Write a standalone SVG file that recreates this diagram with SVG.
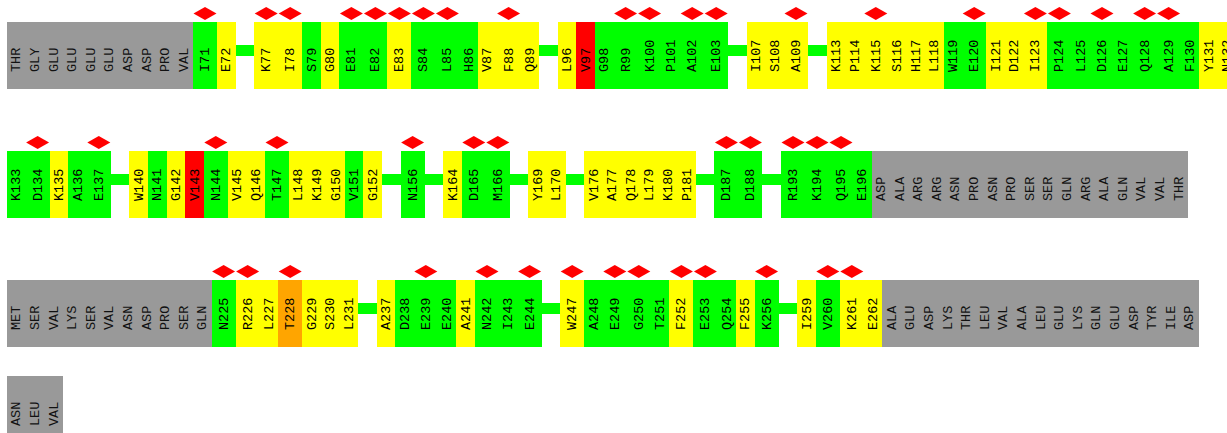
<svg xmlns="http://www.w3.org/2000/svg" xmlns:xlink="http://www.w3.org/1999/xlink" width="1227" height="433" viewBox="0 0 1227 433">
<style>
rect{shape-rendering:crispEdges}
.G{fill:#00ff00}.Y{fill:#ffff00}.R{fill:#ff0000}.O{fill:#ffa500}.X{fill:#999999}
.t{font-family:"Liberation Mono","DejaVu Sans Mono",monospace;font-size:13.5px;fill:#000}
.x{fill:#111}
.c{fill:#00ff00}
</style>
<defs>
<polygon id="dia" points="0,-6.5 11.5,0 0,6.5 -11.5,0" fill="#ff0000"/>
</defs>
<rect width="1227" height="433" fill="#ffffff"/>
<g id="connectors">
<rect class="c" x="235.6" y="45" width="18.6" height="11"/>
<rect class="c" x="539.2" y="45" width="18.6" height="11"/>
<rect class="c" x="728.2" y="45" width="18.6" height="11"/>
<rect class="c" x="808" y="45" width="18.6" height="11"/>
<rect class="c" x="110.8" y="174" width="18.6" height="11"/>
<rect class="c" x="382" y="174" width="18.6" height="11"/>
<rect class="c" x="424.6" y="174" width="18.6" height="11"/>
<rect class="c" x="509.8" y="174" width="18.6" height="11"/>
<rect class="c" x="565.6" y="174" width="18.6" height="11"/>
<rect class="c" x="695.8" y="174" width="18.6" height="11"/>
<rect class="c" x="762.4" y="174" width="18.6" height="11"/>
<rect class="c" x="358" y="303" width="18.6" height="11"/>
<rect class="c" x="541.6" y="303" width="18.6" height="11"/>
<rect class="c" x="778.6" y="303" width="18.6" height="11"/>
</g>
<g id="row1" transform="translate(0,22)">
<g id="r1g1" transform="translate(7,0)"><rect class="X" width="18.6" height="67"/><text class="t x" transform="translate(13.3,50) rotate(-90)">THR</text></g>
<g id="r1g2" transform="translate(25.6,0)"><rect class="X" width="18.6" height="67"/><text class="t x" transform="translate(13.3,50) rotate(-90)">GLY</text></g>
<g id="r1g3" transform="translate(44.2,0)"><rect class="X" width="18.6" height="67"/><text class="t x" transform="translate(13.3,50) rotate(-90)">GLU</text></g>
<g id="r1g4" transform="translate(62.8,0)"><rect class="X" width="18.6" height="67"/><text class="t x" transform="translate(13.3,50) rotate(-90)">GLU</text></g>
<g id="r1g5" transform="translate(81.4,0)"><rect class="X" width="18.6" height="67"/><text class="t x" transform="translate(13.3,50) rotate(-90)">GLU</text></g>
<g id="r1g6" transform="translate(100,0)"><rect class="X" width="18.6" height="67"/><text class="t x" transform="translate(13.3,50) rotate(-90)">GLU</text></g>
<g id="r1g7" transform="translate(118.6,0)"><rect class="X" width="18.6" height="67"/><text class="t x" transform="translate(13.3,50) rotate(-90)">ASP</text></g>
<g id="r1g8" transform="translate(137.2,0)"><rect class="X" width="18.6" height="67"/><text class="t x" transform="translate(13.3,50) rotate(-90)">ASP</text></g>
<g id="r1g9" transform="translate(155.8,0)"><rect class="X" width="18.6" height="67"/><text class="t x" transform="translate(13.3,50) rotate(-90)">PRO</text></g>
<g id="r1g10" transform="translate(174.4,0)"><rect class="X" width="18.6" height="67"/><text class="t x" transform="translate(13.3,50) rotate(-90)">VAL</text></g>
<g id="I71" transform="translate(193,0)"><rect class="G" width="24" height="67"/><text class="t" transform="translate(16,50) rotate(-90)">I71</text><use href="#dia" x="12" y="-8.5"/></g>
<g id="E72" transform="translate(217,0)"><rect class="Y" width="18.6" height="67"/><text class="t" transform="translate(13.3,50) rotate(-90)">E72</text></g>
<g id="K77" transform="translate(254.2,0)"><rect class="Y" width="24" height="67"/><text class="t" transform="translate(16,50) rotate(-90)">K77</text><use href="#dia" x="12" y="-8.5"/></g>
<g id="I78" transform="translate(278.2,0)"><rect class="Y" width="24" height="67"/><text class="t" transform="translate(16,50) rotate(-90)">I78</text><use href="#dia" x="12" y="-8.5"/></g>
<g id="S79" transform="translate(302.2,0)"><rect class="G" width="18.6" height="67"/><text class="t" transform="translate(13.3,50) rotate(-90)">S79</text></g>
<g id="G80" transform="translate(320.8,0)"><rect class="Y" width="18.6" height="67"/><text class="t" transform="translate(13.3,50) rotate(-90)">G80</text></g>
<g id="E81" transform="translate(339.4,0)"><rect class="G" width="24" height="67"/><text class="t" transform="translate(16,50) rotate(-90)">E81</text><use href="#dia" x="12" y="-8.5"/></g>
<g id="E82" transform="translate(363.4,0)"><rect class="G" width="24" height="67"/><text class="t" transform="translate(16,50) rotate(-90)">E82</text><use href="#dia" x="12" y="-8.5"/></g>
<g id="E83" transform="translate(387.4,0)"><rect class="Y" width="24" height="67"/><text class="t" transform="translate(16,50) rotate(-90)">E83</text><use href="#dia" x="12" y="-8.5"/></g>
<g id="S84" transform="translate(411.4,0)"><rect class="G" width="24" height="67"/><text class="t" transform="translate(16,50) rotate(-90)">S84</text><use href="#dia" x="12" y="-8.5"/></g>
<g id="L85" transform="translate(435.4,0)"><rect class="G" width="24" height="67"/><text class="t" transform="translate(16,50) rotate(-90)">L85</text><use href="#dia" x="12" y="-8.5"/></g>
<g id="H86" transform="translate(459.4,0)"><rect class="G" width="18.6" height="67"/><text class="t" transform="translate(13.3,50) rotate(-90)">H86</text></g>
<g id="V87" transform="translate(478,0)"><rect class="Y" width="18.6" height="67"/><text class="t" transform="translate(13.3,50) rotate(-90)">V87</text></g>
<g id="F88" transform="translate(496.6,0)"><rect class="Y" width="24" height="67"/><text class="t" transform="translate(16,50) rotate(-90)">F88</text><use href="#dia" x="12" y="-8.5"/></g>
<g id="Q89" transform="translate(520.6,0)"><rect class="Y" width="18.6" height="67"/><text class="t" transform="translate(13.3,50) rotate(-90)">Q89</text></g>
<g id="L96" transform="translate(557.8,0)"><rect class="Y" width="18.6" height="67"/><text class="t" transform="translate(13.3,50) rotate(-90)">L96</text></g>
<g id="V97" transform="translate(576.4,0)"><rect class="R" width="18.6" height="67"/><text class="t" transform="translate(13.3,50) rotate(-90)">V97</text></g>
<g id="G98" transform="translate(595,0)"><rect class="G" width="18.6" height="67"/><text class="t" transform="translate(13.3,50) rotate(-90)">G98</text></g>
<g id="R99" transform="translate(613.6,0)"><rect class="G" width="24" height="67"/><text class="t" transform="translate(16,50) rotate(-90)">R99</text><use href="#dia" x="12" y="-8.5"/></g>
<g id="K100" transform="translate(637.6,0)"><rect class="G" width="24" height="67"/><text class="t" transform="translate(16,50) rotate(-90)">K100</text><use href="#dia" x="12" y="-8.5"/></g>
<g id="P101" transform="translate(661.6,0)"><rect class="G" width="18.6" height="67"/><text class="t" transform="translate(13.3,50) rotate(-90)">P101</text></g>
<g id="A102" transform="translate(680.2,0)"><rect class="G" width="24" height="67"/><text class="t" transform="translate(16,50) rotate(-90)">A102</text><use href="#dia" x="12" y="-8.5"/></g>
<g id="E103" transform="translate(704.2,0)"><rect class="G" width="24" height="67"/><text class="t" transform="translate(16,50) rotate(-90)">E103</text><use href="#dia" x="12" y="-8.5"/></g>
<g id="I107" transform="translate(746.8,0)"><rect class="Y" width="18.6" height="67"/><text class="t" transform="translate(13.3,50) rotate(-90)">I107</text></g>
<g id="S108" transform="translate(765.4,0)"><rect class="Y" width="18.6" height="67"/><text class="t" transform="translate(13.3,50) rotate(-90)">S108</text></g>
<g id="A109" transform="translate(784,0)"><rect class="Y" width="24" height="67"/><text class="t" transform="translate(16,50) rotate(-90)">A109</text><use href="#dia" x="12" y="-8.5"/></g>
<g id="K113" transform="translate(826.6,0)"><rect class="Y" width="18.6" height="67"/><text class="t" transform="translate(13.3,50) rotate(-90)">K113</text></g>
<g id="P114" transform="translate(845.2,0)"><rect class="Y" width="18.6" height="67"/><text class="t" transform="translate(13.3,50) rotate(-90)">P114</text></g>
<g id="K115" transform="translate(863.8,0)"><rect class="Y" width="24" height="67"/><text class="t" transform="translate(16,50) rotate(-90)">K115</text><use href="#dia" x="12" y="-8.5"/></g>
<g id="S116" transform="translate(887.8,0)"><rect class="Y" width="18.6" height="67"/><text class="t" transform="translate(13.3,50) rotate(-90)">S116</text></g>
<g id="H117" transform="translate(906.4,0)"><rect class="Y" width="18.6" height="67"/><text class="t" transform="translate(13.3,50) rotate(-90)">H117</text></g>
<g id="L118" transform="translate(925,0)"><rect class="Y" width="18.6" height="67"/><text class="t" transform="translate(13.3,50) rotate(-90)">L118</text></g>
<g id="W119" transform="translate(943.6,0)"><rect class="G" width="18.6" height="67"/><text class="t" transform="translate(13.3,50) rotate(-90)">W119</text></g>
<g id="E120" transform="translate(962.2,0)"><rect class="G" width="24" height="67"/><text class="t" transform="translate(16,50) rotate(-90)">E120</text><use href="#dia" x="12" y="-8.5"/></g>
<g id="I121" transform="translate(986.2,0)"><rect class="Y" width="18.6" height="67"/><text class="t" transform="translate(13.3,50) rotate(-90)">I121</text></g>
<g id="D122" transform="translate(1004.8,0)"><rect class="Y" width="18.6" height="67"/><text class="t" transform="translate(13.3,50) rotate(-90)">D122</text></g>
<g id="I123" transform="translate(1023.4,0)"><rect class="Y" width="24" height="67"/><text class="t" transform="translate(16,50) rotate(-90)">I123</text><use href="#dia" x="12" y="-8.5"/></g>
<g id="P124" transform="translate(1047.4,0)"><rect class="G" width="24" height="67"/><text class="t" transform="translate(16,50) rotate(-90)">P124</text><use href="#dia" x="12" y="-8.5"/></g>
<g id="L125" transform="translate(1071.4,0)"><rect class="G" width="18.6" height="67"/><text class="t" transform="translate(13.3,50) rotate(-90)">L125</text></g>
<g id="D126" transform="translate(1090,0)"><rect class="G" width="24" height="67"/><text class="t" transform="translate(16,50) rotate(-90)">D126</text><use href="#dia" x="12" y="-8.5"/></g>
<g id="E127" transform="translate(1114,0)"><rect class="G" width="18.6" height="67"/><text class="t" transform="translate(13.3,50) rotate(-90)">E127</text></g>
<g id="Q128" transform="translate(1132.6,0)"><rect class="G" width="24" height="67"/><text class="t" transform="translate(16,50) rotate(-90)">Q128</text><use href="#dia" x="12" y="-8.5"/></g>
<g id="A129" transform="translate(1156.6,0)"><rect class="G" width="24" height="67"/><text class="t" transform="translate(16,50) rotate(-90)">A129</text><use href="#dia" x="12" y="-8.5"/></g>
<g id="F130" transform="translate(1180.6,0)"><rect class="G" width="18.6" height="67"/><text class="t" transform="translate(13.3,50) rotate(-90)">F130</text></g>
<g id="Y131" transform="translate(1199.2,0)"><rect class="Y" width="18.6" height="67"/><text class="t" transform="translate(13.3,50) rotate(-90)">Y131</text></g>
<g id="N132" transform="translate(1217.8,0)"><rect class="Y" width="18.6" height="67"/><text class="t" transform="translate(13.3,50) rotate(-90)">N132</text></g>
</g>
<g id="row2" transform="translate(0,151)">
<g id="K133" transform="translate(7,0)"><rect class="G" width="18.6" height="67"/><text class="t" transform="translate(13.3,50) rotate(-90)">K133</text></g>
<g id="D134" transform="translate(25.6,0)"><rect class="G" width="24" height="67"/><text class="t" transform="translate(16,50) rotate(-90)">D134</text><use href="#dia" x="12" y="-8.5"/></g>
<g id="K135" transform="translate(49.6,0)"><rect class="Y" width="18.6" height="67"/><text class="t" transform="translate(13.3,50) rotate(-90)">K135</text></g>
<g id="A136" transform="translate(68.2,0)"><rect class="G" width="18.6" height="67"/><text class="t" transform="translate(13.3,50) rotate(-90)">A136</text></g>
<g id="E137" transform="translate(86.8,0)"><rect class="G" width="24" height="67"/><text class="t" transform="translate(16,50) rotate(-90)">E137</text><use href="#dia" x="12" y="-8.5"/></g>
<g id="W140" transform="translate(129.4,0)"><rect class="Y" width="18.6" height="67"/><text class="t" transform="translate(13.3,50) rotate(-90)">W140</text></g>
<g id="N141" transform="translate(148,0)"><rect class="G" width="18.6" height="67"/><text class="t" transform="translate(13.3,50) rotate(-90)">N141</text></g>
<g id="G142" transform="translate(166.6,0)"><rect class="Y" width="18.6" height="67"/><text class="t" transform="translate(13.3,50) rotate(-90)">G142</text></g>
<g id="V143" transform="translate(185.2,0)"><rect class="R" width="18.6" height="67"/><text class="t" transform="translate(13.3,50) rotate(-90)">V143</text></g>
<g id="N144" transform="translate(203.8,0)"><rect class="G" width="24" height="67"/><text class="t" transform="translate(16,50) rotate(-90)">N144</text><use href="#dia" x="12" y="-8.5"/></g>
<g id="V145" transform="translate(227.8,0)"><rect class="Y" width="18.6" height="67"/><text class="t" transform="translate(13.3,50) rotate(-90)">V145</text></g>
<g id="Q146" transform="translate(246.4,0)"><rect class="Y" width="18.6" height="67"/><text class="t" transform="translate(13.3,50) rotate(-90)">Q146</text></g>
<g id="T147" transform="translate(265,0)"><rect class="G" width="24" height="67"/><text class="t" transform="translate(16,50) rotate(-90)">T147</text><use href="#dia" x="12" y="-8.5"/></g>
<g id="L148" transform="translate(289,0)"><rect class="Y" width="18.6" height="67"/><text class="t" transform="translate(13.3,50) rotate(-90)">L148</text></g>
<g id="K149" transform="translate(307.6,0)"><rect class="Y" width="18.6" height="67"/><text class="t" transform="translate(13.3,50) rotate(-90)">K149</text></g>
<g id="G150" transform="translate(326.2,0)"><rect class="Y" width="18.6" height="67"/><text class="t" transform="translate(13.3,50) rotate(-90)">G150</text></g>
<g id="V151" transform="translate(344.8,0)"><rect class="G" width="18.6" height="67"/><text class="t" transform="translate(13.3,50) rotate(-90)">V151</text></g>
<g id="G152" transform="translate(363.4,0)"><rect class="Y" width="18.6" height="67"/><text class="t" transform="translate(13.3,50) rotate(-90)">G152</text></g>
<g id="N156" transform="translate(400.6,0)"><rect class="G" width="24" height="67"/><text class="t" transform="translate(16,50) rotate(-90)">N156</text><use href="#dia" x="12" y="-8.5"/></g>
<g id="K164" transform="translate(443.2,0)"><rect class="Y" width="18.6" height="67"/><text class="t" transform="translate(13.3,50) rotate(-90)">K164</text></g>
<g id="D165" transform="translate(461.8,0)"><rect class="G" width="24" height="67"/><text class="t" transform="translate(16,50) rotate(-90)">D165</text><use href="#dia" x="12" y="-8.5"/></g>
<g id="M166" transform="translate(485.8,0)"><rect class="G" width="24" height="67"/><text class="t" transform="translate(16,50) rotate(-90)">M166</text><use href="#dia" x="12" y="-8.5"/></g>
<g id="Y169" transform="translate(528.4,0)"><rect class="Y" width="18.6" height="67"/><text class="t" transform="translate(13.3,50) rotate(-90)">Y169</text></g>
<g id="L170" transform="translate(547,0)"><rect class="Y" width="18.6" height="67"/><text class="t" transform="translate(13.3,50) rotate(-90)">L170</text></g>
<g id="V176" transform="translate(584.2,0)"><rect class="Y" width="18.6" height="67"/><text class="t" transform="translate(13.3,50) rotate(-90)">V176</text></g>
<g id="A177" transform="translate(602.8,0)"><rect class="Y" width="18.6" height="67"/><text class="t" transform="translate(13.3,50) rotate(-90)">A177</text></g>
<g id="Q178" transform="translate(621.4,0)"><rect class="Y" width="18.6" height="67"/><text class="t" transform="translate(13.3,50) rotate(-90)">Q178</text></g>
<g id="L179" transform="translate(640,0)"><rect class="Y" width="18.6" height="67"/><text class="t" transform="translate(13.3,50) rotate(-90)">L179</text></g>
<g id="K180" transform="translate(658.6,0)"><rect class="Y" width="18.6" height="67"/><text class="t" transform="translate(13.3,50) rotate(-90)">K180</text></g>
<g id="P181" transform="translate(677.2,0)"><rect class="Y" width="18.6" height="67"/><text class="t" transform="translate(13.3,50) rotate(-90)">P181</text></g>
<g id="D187" transform="translate(714.4,0)"><rect class="G" width="24" height="67"/><text class="t" transform="translate(16,50) rotate(-90)">D187</text><use href="#dia" x="12" y="-8.5"/></g>
<g id="D188" transform="translate(738.4,0)"><rect class="G" width="24" height="67"/><text class="t" transform="translate(16,50) rotate(-90)">D188</text><use href="#dia" x="12" y="-8.5"/></g>
<g id="R193" transform="translate(781,0)"><rect class="G" width="24" height="67"/><text class="t" transform="translate(16,50) rotate(-90)">R193</text><use href="#dia" x="12" y="-8.5"/></g>
<g id="K194" transform="translate(805,0)"><rect class="G" width="24" height="67"/><text class="t" transform="translate(16,50) rotate(-90)">K194</text><use href="#dia" x="12" y="-8.5"/></g>
<g id="Q195" transform="translate(829,0)"><rect class="G" width="24" height="67"/><text class="t" transform="translate(16,50) rotate(-90)">Q195</text><use href="#dia" x="12" y="-8.5"/></g>
<g id="E196" transform="translate(853,0)"><rect class="G" width="18.6" height="67"/><text class="t" transform="translate(13.3,50) rotate(-90)">E196</text></g>
<g id="r2g1" transform="translate(871.6,0)"><rect class="X" width="18.6" height="67"/><text class="t x" transform="translate(13.3,50) rotate(-90)">ASP</text></g>
<g id="r2g2" transform="translate(890.2,0)"><rect class="X" width="18.6" height="67"/><text class="t x" transform="translate(13.3,50) rotate(-90)">ALA</text></g>
<g id="r2g3" transform="translate(908.8,0)"><rect class="X" width="18.6" height="67"/><text class="t x" transform="translate(13.3,50) rotate(-90)">ARG</text></g>
<g id="r2g4" transform="translate(927.4,0)"><rect class="X" width="18.6" height="67"/><text class="t x" transform="translate(13.3,50) rotate(-90)">ARG</text></g>
<g id="r2g5" transform="translate(946,0)"><rect class="X" width="18.6" height="67"/><text class="t x" transform="translate(13.3,50) rotate(-90)">ASN</text></g>
<g id="r2g6" transform="translate(964.6,0)"><rect class="X" width="18.6" height="67"/><text class="t x" transform="translate(13.3,50) rotate(-90)">PRO</text></g>
<g id="r2g7" transform="translate(983.2,0)"><rect class="X" width="18.6" height="67"/><text class="t x" transform="translate(13.3,50) rotate(-90)">ASN</text></g>
<g id="r2g8" transform="translate(1001.8,0)"><rect class="X" width="18.6" height="67"/><text class="t x" transform="translate(13.3,50) rotate(-90)">PRO</text></g>
<g id="r2g9" transform="translate(1020.4,0)"><rect class="X" width="18.6" height="67"/><text class="t x" transform="translate(13.3,50) rotate(-90)">SER</text></g>
<g id="r2g10" transform="translate(1039,0)"><rect class="X" width="18.6" height="67"/><text class="t x" transform="translate(13.3,50) rotate(-90)">SER</text></g>
<g id="r2g11" transform="translate(1057.6,0)"><rect class="X" width="18.6" height="67"/><text class="t x" transform="translate(13.3,50) rotate(-90)">GLN</text></g>
<g id="r2g12" transform="translate(1076.2,0)"><rect class="X" width="18.6" height="67"/><text class="t x" transform="translate(13.3,50) rotate(-90)">ARG</text></g>
<g id="r2g13" transform="translate(1094.8,0)"><rect class="X" width="18.6" height="67"/><text class="t x" transform="translate(13.3,50) rotate(-90)">ALA</text></g>
<g id="r2g14" transform="translate(1113.4,0)"><rect class="X" width="18.6" height="67"/><text class="t x" transform="translate(13.3,50) rotate(-90)">GLN</text></g>
<g id="r2g15" transform="translate(1132,0)"><rect class="X" width="18.6" height="67"/><text class="t x" transform="translate(13.3,50) rotate(-90)">VAL</text></g>
<g id="r2g16" transform="translate(1150.6,0)"><rect class="X" width="18.6" height="67"/><text class="t x" transform="translate(13.3,50) rotate(-90)">VAL</text></g>
<g id="r2g17" transform="translate(1169.2,0)"><rect class="X" width="18.6" height="67"/><text class="t x" transform="translate(13.3,50) rotate(-90)">THR</text></g>
</g>
<g id="row3" transform="translate(0,280)">
<g id="r3g1" transform="translate(7,0)"><rect class="X" width="18.6" height="67"/><text class="t x" transform="translate(13.3,50) rotate(-90)">MET</text></g>
<g id="r3g2" transform="translate(25.6,0)"><rect class="X" width="18.6" height="67"/><text class="t x" transform="translate(13.3,50) rotate(-90)">SER</text></g>
<g id="r3g3" transform="translate(44.2,0)"><rect class="X" width="18.6" height="67"/><text class="t x" transform="translate(13.3,50) rotate(-90)">VAL</text></g>
<g id="r3g4" transform="translate(62.8,0)"><rect class="X" width="18.6" height="67"/><text class="t x" transform="translate(13.3,50) rotate(-90)">LYS</text></g>
<g id="r3g5" transform="translate(81.4,0)"><rect class="X" width="18.6" height="67"/><text class="t x" transform="translate(13.3,50) rotate(-90)">SER</text></g>
<g id="r3g6" transform="translate(100,0)"><rect class="X" width="18.6" height="67"/><text class="t x" transform="translate(13.3,50) rotate(-90)">VAL</text></g>
<g id="r3g7" transform="translate(118.6,0)"><rect class="X" width="18.6" height="67"/><text class="t x" transform="translate(13.3,50) rotate(-90)">ASN</text></g>
<g id="r3g8" transform="translate(137.2,0)"><rect class="X" width="18.6" height="67"/><text class="t x" transform="translate(13.3,50) rotate(-90)">ASP</text></g>
<g id="r3g9" transform="translate(155.8,0)"><rect class="X" width="18.6" height="67"/><text class="t x" transform="translate(13.3,50) rotate(-90)">PRO</text></g>
<g id="r3g10" transform="translate(174.4,0)"><rect class="X" width="18.6" height="67"/><text class="t x" transform="translate(13.3,50) rotate(-90)">SER</text></g>
<g id="r3g11" transform="translate(193,0)"><rect class="X" width="18.6" height="67"/><text class="t x" transform="translate(13.3,50) rotate(-90)">GLN</text></g>
<g id="N225" transform="translate(211.6,0)"><rect class="G" width="24" height="67"/><text class="t" transform="translate(16,50) rotate(-90)">N225</text><use href="#dia" x="12" y="-8.5"/></g>
<g id="R226" transform="translate(235.6,0)"><rect class="Y" width="24" height="67"/><text class="t" transform="translate(16,50) rotate(-90)">R226</text><use href="#dia" x="12" y="-8.5"/></g>
<g id="L227" transform="translate(259.6,0)"><rect class="Y" width="18.6" height="67"/><text class="t" transform="translate(13.3,50) rotate(-90)">L227</text></g>
<g id="T228" transform="translate(278.2,0)"><rect class="O" width="24" height="67"/><text class="t" transform="translate(16,50) rotate(-90)">T228</text><use href="#dia" x="12" y="-8.5"/></g>
<g id="G229" transform="translate(302.2,0)"><rect class="Y" width="18.6" height="67"/><text class="t" transform="translate(13.3,50) rotate(-90)">G229</text></g>
<g id="S230" transform="translate(320.8,0)"><rect class="Y" width="18.6" height="67"/><text class="t" transform="translate(13.3,50) rotate(-90)">S230</text></g>
<g id="L231" transform="translate(339.4,0)"><rect class="Y" width="18.6" height="67"/><text class="t" transform="translate(13.3,50) rotate(-90)">L231</text></g>
<g id="A237" transform="translate(376.6,0)"><rect class="Y" width="18.6" height="67"/><text class="t" transform="translate(13.3,50) rotate(-90)">A237</text></g>
<g id="D238" transform="translate(395.2,0)"><rect class="G" width="18.6" height="67"/><text class="t" transform="translate(13.3,50) rotate(-90)">D238</text></g>
<g id="E239" transform="translate(413.8,0)"><rect class="G" width="24" height="67"/><text class="t" transform="translate(16,50) rotate(-90)">E239</text><use href="#dia" x="12" y="-8.5"/></g>
<g id="E240" transform="translate(437.8,0)"><rect class="G" width="18.6" height="67"/><text class="t" transform="translate(13.3,50) rotate(-90)">E240</text></g>
<g id="A241" transform="translate(456.4,0)"><rect class="Y" width="18.6" height="67"/><text class="t" transform="translate(13.3,50) rotate(-90)">A241</text></g>
<g id="N242" transform="translate(475,0)"><rect class="G" width="24" height="67"/><text class="t" transform="translate(16,50) rotate(-90)">N242</text><use href="#dia" x="12" y="-8.5"/></g>
<g id="I243" transform="translate(499,0)"><rect class="G" width="18.6" height="67"/><text class="t" transform="translate(13.3,50) rotate(-90)">I243</text></g>
<g id="E244" transform="translate(517.6,0)"><rect class="G" width="24" height="67"/><text class="t" transform="translate(16,50) rotate(-90)">E244</text><use href="#dia" x="12" y="-8.5"/></g>
<g id="W247" transform="translate(560.2,0)"><rect class="Y" width="24" height="67"/><text class="t" transform="translate(16,50) rotate(-90)">W247</text><use href="#dia" x="12" y="-8.5"/></g>
<g id="A248" transform="translate(584.2,0)"><rect class="G" width="18.6" height="67"/><text class="t" transform="translate(13.3,50) rotate(-90)">A248</text></g>
<g id="E249" transform="translate(602.8,0)"><rect class="G" width="24" height="67"/><text class="t" transform="translate(16,50) rotate(-90)">E249</text><use href="#dia" x="12" y="-8.5"/></g>
<g id="G250" transform="translate(626.8,0)"><rect class="G" width="24" height="67"/><text class="t" transform="translate(16,50) rotate(-90)">G250</text><use href="#dia" x="12" y="-8.5"/></g>
<g id="T251" transform="translate(650.8,0)"><rect class="G" width="18.6" height="67"/><text class="t" transform="translate(13.3,50) rotate(-90)">T251</text></g>
<g id="F252" transform="translate(669.4,0)"><rect class="Y" width="24" height="67"/><text class="t" transform="translate(16,50) rotate(-90)">F252</text><use href="#dia" x="12" y="-8.5"/></g>
<g id="E253" transform="translate(693.4,0)"><rect class="G" width="24" height="67"/><text class="t" transform="translate(16,50) rotate(-90)">E253</text><use href="#dia" x="12" y="-8.5"/></g>
<g id="Q254" transform="translate(717.4,0)"><rect class="G" width="18.6" height="67"/><text class="t" transform="translate(13.3,50) rotate(-90)">Q254</text></g>
<g id="F255" transform="translate(736,0)"><rect class="Y" width="18.6" height="67"/><text class="t" transform="translate(13.3,50) rotate(-90)">F255</text></g>
<g id="K256" transform="translate(754.6,0)"><rect class="G" width="24" height="67"/><text class="t" transform="translate(16,50) rotate(-90)">K256</text><use href="#dia" x="12" y="-8.5"/></g>
<g id="I259" transform="translate(797.2,0)"><rect class="Y" width="18.6" height="67"/><text class="t" transform="translate(13.3,50) rotate(-90)">I259</text></g>
<g id="V260" transform="translate(815.8,0)"><rect class="G" width="24" height="67"/><text class="t" transform="translate(16,50) rotate(-90)">V260</text><use href="#dia" x="12" y="-8.5"/></g>
<g id="K261" transform="translate(839.8,0)"><rect class="Y" width="24" height="67"/><text class="t" transform="translate(16,50) rotate(-90)">K261</text><use href="#dia" x="12" y="-8.5"/></g>
<g id="E262" transform="translate(863.8,0)"><rect class="Y" width="18.6" height="67"/><text class="t" transform="translate(13.3,50) rotate(-90)">E262</text></g>
<g id="r3g12" transform="translate(882.4,0)"><rect class="X" width="18.6" height="67"/><text class="t x" transform="translate(13.3,50) rotate(-90)">ALA</text></g>
<g id="r3g13" transform="translate(901,0)"><rect class="X" width="18.6" height="67"/><text class="t x" transform="translate(13.3,50) rotate(-90)">GLU</text></g>
<g id="r3g14" transform="translate(919.6,0)"><rect class="X" width="18.6" height="67"/><text class="t x" transform="translate(13.3,50) rotate(-90)">ASP</text></g>
<g id="r3g15" transform="translate(938.2,0)"><rect class="X" width="18.6" height="67"/><text class="t x" transform="translate(13.3,50) rotate(-90)">LYS</text></g>
<g id="r3g16" transform="translate(956.8,0)"><rect class="X" width="18.6" height="67"/><text class="t x" transform="translate(13.3,50) rotate(-90)">THR</text></g>
<g id="r3g17" transform="translate(975.4,0)"><rect class="X" width="18.6" height="67"/><text class="t x" transform="translate(13.3,50) rotate(-90)">LEU</text></g>
<g id="r3g18" transform="translate(994,0)"><rect class="X" width="18.6" height="67"/><text class="t x" transform="translate(13.3,50) rotate(-90)">VAL</text></g>
<g id="r3g19" transform="translate(1012.6,0)"><rect class="X" width="18.6" height="67"/><text class="t x" transform="translate(13.3,50) rotate(-90)">ALA</text></g>
<g id="r3g20" transform="translate(1031.2,0)"><rect class="X" width="18.6" height="67"/><text class="t x" transform="translate(13.3,50) rotate(-90)">LEU</text></g>
<g id="r3g21" transform="translate(1049.8,0)"><rect class="X" width="18.6" height="67"/><text class="t x" transform="translate(13.3,50) rotate(-90)">GLU</text></g>
<g id="r3g22" transform="translate(1068.4,0)"><rect class="X" width="18.6" height="67"/><text class="t x" transform="translate(13.3,50) rotate(-90)">LYS</text></g>
<g id="r3g23" transform="translate(1087,0)"><rect class="X" width="18.6" height="67"/><text class="t x" transform="translate(13.3,50) rotate(-90)">GLN</text></g>
<g id="r3g24" transform="translate(1105.6,0)"><rect class="X" width="18.6" height="67"/><text class="t x" transform="translate(13.3,50) rotate(-90)">GLU</text></g>
<g id="r3g25" transform="translate(1124.2,0)"><rect class="X" width="18.6" height="67"/><text class="t x" transform="translate(13.3,50) rotate(-90)">ASP</text></g>
<g id="r3g26" transform="translate(1142.8,0)"><rect class="X" width="18.6" height="67"/><text class="t x" transform="translate(13.3,50) rotate(-90)">TYR</text></g>
<g id="r3g27" transform="translate(1161.4,0)"><rect class="X" width="18.6" height="67"/><text class="t x" transform="translate(13.3,50) rotate(-90)">ILE</text></g>
<g id="r3g28" transform="translate(1180,0)"><rect class="X" width="18.6" height="67"/><text class="t x" transform="translate(13.3,50) rotate(-90)">ASP</text></g>
</g>
<g id="row4" transform="translate(0,376)">
<g id="r4g1" transform="translate(7,0)"><rect class="X" width="18.6" height="67"/><text class="t x" transform="translate(13.3,50) rotate(-90)">ASN</text></g>
<g id="r4g2" transform="translate(25.6,0)"><rect class="X" width="18.6" height="67"/><text class="t x" transform="translate(13.3,50) rotate(-90)">LEU</text></g>
<g id="r4g3" transform="translate(44.2,0)"><rect class="X" width="18.6" height="67"/><text class="t x" transform="translate(13.3,50) rotate(-90)">VAL</text></g>
</g>
</svg>
